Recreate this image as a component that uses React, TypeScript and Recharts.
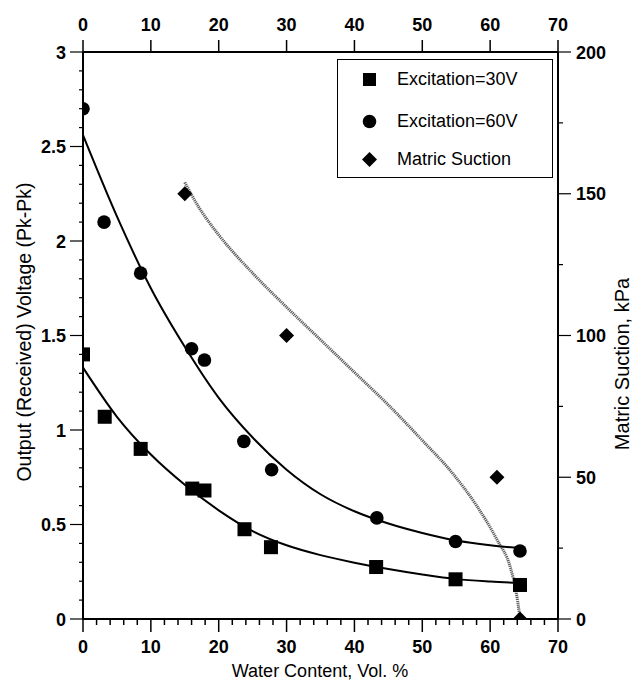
import React from 'react';
import { ComposedChart, Line, Scatter, XAxis, YAxis, Legend } from 'recharts';

// ---- data ----
const v30Points = [
  { x: 0, y: 1.40 }, { x: 3.2, y: 1.07 }, { x: 8.5, y: 0.90 }, { x: 16.1, y: 0.69 },
  { x: 17.9, y: 0.68 }, { x: 23.8, y: 0.475 }, { x: 27.7, y: 0.38 }, { x: 43.2, y: 0.275 },
  { x: 54.9, y: 0.21 }, { x: 64.4, y: 0.18 },
];
const v60Points = [
  { x: 0, y: 2.70 }, { x: 3.1, y: 2.10 }, { x: 8.5, y: 1.83 }, { x: 16.0, y: 1.43 },
  { x: 17.9, y: 1.37 }, { x: 23.7, y: 0.94 }, { x: 27.8, y: 0.79 }, { x: 43.3, y: 0.535 },
  { x: 54.9, y: 0.41 }, { x: 64.4, y: 0.36 },
];
const suctionPoints = [
  { x: 15.0, y: 150 }, { x: 30.0, y: 100 }, { x: 61.0, y: 50 }, { x: 64.4, y: 0 },
];
const v30Fit = [
  { x: 0, y: 1.33 }, { x: 5, y: 1.07 }, { x: 10, y: 0.87 }, { x: 15, y: 0.71 },
  { x: 20, y: 0.575 }, { x: 25, y: 0.465 }, { x: 30, y: 0.39 }, { x: 35, y: 0.338 },
  { x: 40, y: 0.298 }, { x: 45, y: 0.264 }, { x: 50, y: 0.235 }, { x: 55, y: 0.211 },
  { x: 60, y: 0.198 }, { x: 64.4, y: 0.19 },
];
const v60Fit = [
  { x: 0, y: 2.56 }, { x: 5, y: 2.13 }, { x: 10, y: 1.75 }, { x: 15, y: 1.44 },
  { x: 20, y: 1.17 }, { x: 25, y: 0.96 }, { x: 30, y: 0.79 }, { x: 35, y: 0.66 },
  { x: 40, y: 0.57 }, { x: 45, y: 0.505 }, { x: 50, y: 0.455 }, { x: 55, y: 0.415 },
  { x: 60, y: 0.39 }, { x: 64.4, y: 0.375 },
];
const suctionFit = [
  { x: 15.0, y: 154 }, { x: 17, y: 145.5 }, { x: 20, y: 135.5 }, { x: 25, y: 122 },
  { x: 30, y: 110 }, { x: 35, y: 98.5 }, { x: 40, y: 87 }, { x: 45, y: 75.5 },
  { x: 50, y: 63 }, { x: 54.6, y: 51 }, { x: 58, y: 40 }, { x: 61, y: 28 },
  { x: 63, y: 18 }, { x: 63.8, y: 10 }, { x: 64.3, y: 2 }, { x: 64.4, y: 0 },
];

// ---- ticks ----
const xTicks = [0, 2, 4, 6, 8, 10, 12, 14, 16, 18, 20, 22, 24, 26, 28, 30, 32, 34, 36, 38, 40,
  42, 44, 46, 48, 50, 52, 54, 56, 58, 60, 62, 64, 66, 68, 70];
const xTopTicks = [0, 10, 20, 30, 40, 50, 60, 70];
const yLeftTicks = [0, 0.1, 0.2, 0.3, 0.4, 0.5, 0.6, 0.7, 0.8, 0.9, 1, 1.1, 1.2, 1.3, 1.4, 1.5,
  1.6, 1.7, 1.8, 1.9, 2, 2.1, 2.2, 2.3, 2.4, 2.5, 2.6, 2.7, 2.8, 2.9, 3];
const yRightTicks = [0, 25, 50, 75, 100, 125, 150, 175, 200];

const legendItems = ['Excitation=30V', 'Excitation=60V', 'Matric Suction'];

const FONT = '"Liberation Sans", Arial, Helvetica, sans-serif';
const TICK_FONT = { fontFamily: FONT, fontSize: 18, fontWeight: 'bold' as const, fill: '#000' };

const isMajorX = (v: number) => Math.abs(v % 10) < 1e-6;
const isMajorL = (v: number) => Math.abs(v * 2 - Math.round(v * 2)) < 1e-6;
const isMajorR = (v: number) => v % 50 === 0;

const BottomTick = (props: any) => {
  const { x, y, payload } = props;
  const major = isMajorX(payload.value);
  return (
    <g>
      <line x1={x} x2={x} y1={y} y2={y + (major ? 13 : 6)} stroke="#000" strokeWidth={1.5} />
      {major && (
        <text x={x} y={y + 34} textAnchor="middle" style={TICK_FONT}>{payload.value}</text>
      )}
    </g>
  );
};
const TopTick = (props: any) => {
  const { x, y, payload } = props;
  return (
    <g>
      <line x1={x} x2={x} y1={y} y2={y - 12} stroke="#000" strokeWidth={1.5} />
      <text x={x} y={y - 21} textAnchor="middle" style={TICK_FONT}>{payload.value}</text>
    </g>
  );
};
const LeftTick = (props: any) => {
  const { x, y, payload } = props;
  const major = isMajorL(payload.value);
  return (
    <g>
      <line x1={x - (major ? 13 : 4)} x2={x} y1={y} y2={y} stroke="#000" strokeWidth={1.2} />
      {major && (
        <text x={x - 17} y={y + 6.5} textAnchor="end" style={TICK_FONT}>{payload.value}</text>
      )}
    </g>
  );
};
const RightTick = (props: any) => {
  const { x, y, payload } = props;
  const major = isMajorR(payload.value);
  return (
    <g>
      <line x1={x} x2={x + (major ? 13 : 5)} y1={y} y2={y} stroke="#000" strokeWidth={1.2} />
      {major && (
        <text x={x + 18} y={y + 6.5} textAnchor="start" style={TICK_FONT}>{payload.value}</text>
      )}
    </g>
  );
};

const SquareShape = (p: any) => <rect x={p.cx - 7} y={p.cy - 7} width={14} height={14} fill="#000" />;
const CircleShape = (p: any) => <circle cx={p.cx} cy={p.cy} r={6.8} fill="#000" />;
const DiamondShape = (p: any) => (
  <polygon points={`${p.cx},${p.cy - 7.5} ${p.cx + 7.5},${p.cy} ${p.cx},${p.cy + 7.5} ${p.cx - 7.5},${p.cy}`} fill="#000" />
);

const legendMarker = (i: number) => {
  if (i === 0) return <rect x={3} y={3} width={13} height={13} fill="#000" />;
  if (i === 1) return <circle cx={9.5} cy={9.5} r={6.8} fill="#000" />;
  return <polygon points="9.5,2 17,9.5 9.5,17 2,9.5" fill="#000" />;
};

const LegendBox = () => (
  <div
    style={{
      width: 214, height: 117, border: '1.5px solid #000', boxSizing: 'content-box',
      position: 'relative', background: '#fff', fontFamily: FONT, fontSize: 18, color: '#000',
    }}
  >
    {legendItems.map((t, i) => (
      <div key={t} style={{ position: 'absolute', left: 22, top: [19, 61, 99][i] - 10, height: 20, display: 'flex', alignItems: 'center', whiteSpace: 'nowrap' }}>
        <svg width={19} height={19} style={{ marginRight: 18 }}>{legendMarker(i)}</svg>
        <span style={{ lineHeight: '20px' }}>{t}</span>
      </div>
    ))}
  </div>
);

const labelStyle = { fontFamily: FONT, fontSize: 19.5, fill: '#000' };

export default function App() {
  return (
    <div style={{ position: 'absolute', left: 0, top: 0, width: 635, height: 683, background: '#fff' }}>
      <ComposedChart width={635} height={683} margin={{ top: 12, right: 7, bottom: 4, left: 13 }}>
        <XAxis
          xAxisId="b" dataKey="x" type="number" domain={[0, 70]} allowDataOverflow
          ticks={xTicks} interval={0} tickSize={0} tickMargin={0} tick={<BottomTick />}
          tickLine={false} axisLine={{ stroke: '#000', strokeWidth: 2 }} height={60}
          label={{ content: () => <text x={320} y={677} textAnchor="middle" style={{ ...labelStyle, fontSize: 18 }}>Water Content, Vol. %</text> }}
        />
        <XAxis
          xAxisId="t" orientation="top" dataKey="x" type="number" domain={[0, 70]} allowDataOverflow
          ticks={xTopTicks} interval={0} tickSize={0} tickMargin={0} tick={<TopTick />}
          tickLine={false} axisLine={{ stroke: '#000', strokeWidth: 2 }} height={40}
        />
        <YAxis
          yAxisId="l" dataKey="y" type="number" domain={[0, 3]} allowDataOverflow
          ticks={yLeftTicks} interval={0} tickSize={0} tickMargin={0} tick={<LeftTick />}
          tickLine={false} axisLine={{ stroke: '#000', strokeWidth: 2 }} width={70}
          label={{ content: () => <text x={31} y={332} textAnchor="middle" transform="rotate(-90 31 332)" style={labelStyle}>Output (Received) Voltage (Pk-Pk)</text> }}
        />
        <YAxis
          yAxisId="r" orientation="right" dataKey="y" type="number" domain={[0, 200]} allowDataOverflow
          ticks={yRightTicks} interval={0} tickSize={0} tickMargin={0} tick={<RightTick />}
          tickLine={false} axisLine={{ stroke: '#000', strokeWidth: 2 }} width={70}
          label={{ content: () => <text x={629} y={364} textAnchor="middle" transform="rotate(-90 629 364)" style={{ ...labelStyle, fontSize: 20 }}>Matric Suction, kPa</text> }}
        />
        <Line xAxisId="b" yAxisId="r" data={suctionFit} dataKey="y" type="monotone" stroke="#5a5a5a" strokeWidth={3} strokeDasharray="1.2 0.8" dot={false} isAnimationActive={false} />
        <Line xAxisId="b" yAxisId="l" data={v60Fit} dataKey="y" type="monotone" stroke="#000" strokeWidth={2} dot={false} isAnimationActive={false} />
        <Line xAxisId="b" yAxisId="l" data={v30Fit} dataKey="y" type="monotone" stroke="#000" strokeWidth={2} dot={false} isAnimationActive={false} />
        <Scatter xAxisId="b" yAxisId="l" data={v30Points} dataKey="y" shape={<SquareShape />} isAnimationActive={false} />
        <Scatter xAxisId="b" yAxisId="l" data={v60Points} dataKey="y" shape={<CircleShape />} isAnimationActive={false} />
        <Scatter xAxisId="b" yAxisId="r" data={suctionPoints} dataKey="y" shape={<DiamondShape />} isAnimationActive={false} />
        <Legend
          layout="horizontal" verticalAlign="middle" align="center"
          wrapperStyle={{ position: 'absolute', left: 337, top: 59, width: 'auto', height: 'auto' }}
          content={() => <LegendBox />}
        />
      </ComposedChart>
    </div>
  );
}
